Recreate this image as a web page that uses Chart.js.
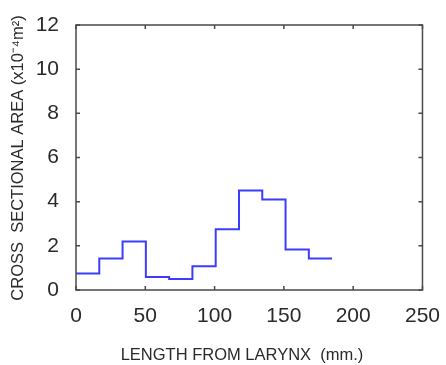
<!DOCTYPE html>
<html>
<head>
<meta charset="utf-8">
<script src="https://cdn.jsdelivr.net/npm/chart.js@4.4.0/dist/chart.umd.min.js"></script>
<style>
  html, body { margin: 0; padding: 0; background: #fff; }
  #wrap { width: 446px; height: 365px; }
</style>
</head>
<body>
<div id="wrap"><canvas id="chart" width="446" height="365"></canvas></div>
<script>
// Section boundaries along the tract (mm) and area in each section (x10^-4 m^2)
const sectionEdges = [0, 16.8, 33.6, 50.4, 67.2, 84, 100.8, 117.6, 134.4, 151.2, 168, 184.8];
const sectionArea = [0.75, 1.43, 2.2, 0.59, 0.50, 1.08, 2.75, 4.51, 4.1, 1.83, 1.43];
const xTicks = [0, 50, 100, 150, 200, 250];
const yTicks = [0, 2, 4, 6, 8, 10, 12];

const xTitle = 'LENGTH FROM LARYNX  (mm.)';
const yTitle = 'CROSS  SECTIONAL AREA (x10\u207B\u2074m\u00B2)';

// stepped line: each section value starts at its left edge, last point closes the final step
const points = sectionArea.map((v, i) => ({ x: sectionEdges[i], y: v }));
points.push({ x: sectionEdges[sectionEdges.length - 1], y: sectionArea[sectionArea.length - 1] });

const tickFont = { family: "'Liberation Sans', Arial, sans-serif", size: 21 };

// Frame with inward ticks on all four sides, plus axis titles
const framePlugin = {
    id: 'frame',
    afterDraw(chart) {
        const { ctx, chartArea: a, scales } = chart;
        ctx.save();
        ctx.strokeStyle = '#4a4a4a';
        ctx.lineWidth = 1.5;
        ctx.strokeRect(a.left, a.top, a.right - a.left, a.bottom - a.top);
        ctx.beginPath();
        xTicks.forEach(t => {
            const px = scales.x.getPixelForValue(t);
            ctx.moveTo(px, a.bottom); ctx.lineTo(px, a.bottom - 4);
            ctx.moveTo(px, a.top); ctx.lineTo(px, a.top + 4);
        });
        yTicks.forEach(t => {
            const py = scales.y.getPixelForValue(t);
            ctx.moveTo(a.left, py); ctx.lineTo(a.left + 4, py);
            ctx.moveTo(a.right, py); ctx.lineTo(a.right - 4, py);
        });
        ctx.stroke();

        ctx.fillStyle = '#2a2a2a';
        ctx.font = "16.5px 'Liberation Sans', Arial, sans-serif";
        ctx.textAlign = 'center';
        ctx.textBaseline = 'middle';
        ctx.fillText(xTitle, 242, 355);
        ctx.translate(18, 158);
        ctx.rotate(-Math.PI / 2);
        ctx.fillText(yTitle, 0, 0);
        ctx.restore();
    }
};

new Chart(document.getElementById('chart').getContext('2d'), {
    type: 'line',
    data: {
        datasets: [{
            data: points,
            stepped: 'before',
            borderColor: '#3c3cff',
            borderWidth: 2,
            pointRadius: 0,
            fill: false
        }]
    },
    options: {
        responsive: false,
        animation: false,
        layout: { padding: { top: 25, right: 21, left: 0, bottom: 0 } },
        plugins: { legend: { display: false }, tooltip: { enabled: false } },
        scales: {
            x: {
                type: 'linear',
                min: 0, max: 250,
                afterBuildTicks: s => { s.ticks = xTicks.map(v => ({ value: v })); },
                afterFit: s => { s.height = 75; },
                grid: { display: false },
                border: { display: false },
                ticks: { color: '#2a2a2a', font: tickFont, padding: 6, maxRotation: 0 }
            },
            y: {
                min: 0, max: 12,
                afterBuildTicks: s => { s.ticks = yTicks.map(v => ({ value: v })); },
                afterFit: s => { s.width = 76; },
                grid: { display: false },
                border: { display: false },
                ticks: { color: '#2a2a2a', font: tickFont, padding: 9 }
            }
        }
    },
    plugins: [framePlugin]
});
</script>
</body>
</html>
